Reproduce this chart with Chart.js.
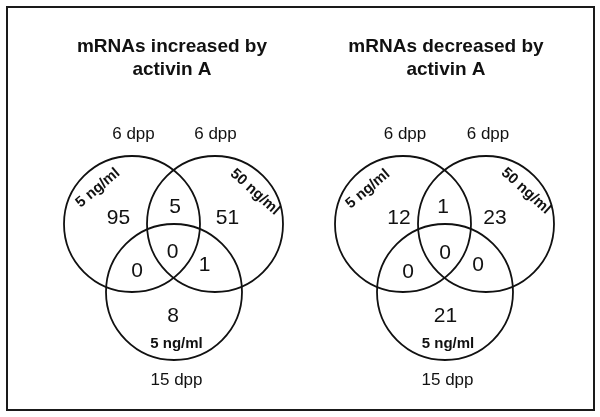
<!DOCTYPE html>
<html>
<head>
<meta charset="utf-8">
<script src="https://cdn.jsdelivr.net/npm/chart.js@4.4.1/dist/chart.umd.min.js"></script>
<style>
  html, body { margin: 0; padding: 0; background: #fff; }
  #wrap { width: 600px; height: 417px; }
</style>
</head>
<body>
<div id="wrap"><canvas id="venn" width="600" height="417"></canvas></div>
<script>
// Venn regions: A = 5 ng/ml 6 dpp, B = 50 ng/ml 6 dpp, C = 5 ng/ml 15 dpp
const regionNames = ['A only', 'B only', 'C only', 'A+B', 'A+C', 'B+C', 'A+B+C'];
const increasedCounts = [95, 51, 8, 5, 0, 1, 0];
const decreasedCounts = [12, 23, 21, 1, 0, 0, 0];
const panelTitles = [['mRNAs increased by', 'activin A'], ['mRNAs decreased by', 'activin A']];
const setDoses = ['5 ng/ml', '50 ng/ml', '5 ng/ml'];
const setAges = ['6 dpp', '6 dpp', '15 dpp'];

// layout (canvas units, y downward)
const FONT = '"Liberation Sans", Arial, sans-serif';
const RADIUS = 68;
const panels = [
    {
        counts: increasedCounts,
        title: panelTitles[0], titleX: 172,
        circles: [{x: 132, y: 224}, {x: 215, y: 224}, {x: 174, y: 292}],
        regionPos: [[118.5, 223.5], [227.5, 223.5], [173, 322], [175, 212.5], [137, 277], [204.5, 271], [172.5, 258]],
        agePos: [[133.5, 139], [215.5, 139], [176.5, 385]],
        dosePos: [[98, 188, -40], [255, 192, 42], [176.5, 348, 0]]
    },
    {
        counts: decreasedCounts,
        title: panelTitles[1], titleX: 446,
        circles: [{x: 403, y: 224}, {x: 486, y: 224}, {x: 445, y: 292}],
        regionPos: [[399, 223.5], [495, 223.5], [445.5, 321.5], [443, 212.5], [408, 277.5], [478, 271], [445, 258.5]],
        agePos: [[405, 139], [488, 139], [447.5, 385]],
        dosePos: [[368, 189, -40], [526, 191, 42], [448, 348, 0]]
    }
];

const vennText = {
    id: 'vennText',
    afterDatasetsDraw(chart) {
        const ctx = chart.ctx;
        const xs = chart.scales.x, ys = chart.scales.y;
        const px = v => xs.getPixelForValue(v);
        const py = v => ys.getPixelForValue(v);

        ctx.save();
        ctx.fillStyle = '#111';
        ctx.textAlign = 'center';
        ctx.textBaseline = 'alphabetic';

        panels.forEach(p => {
            ctx.font = 'bold 19px ' + FONT;
            ctx.fillText(p.title[0], px(p.titleX), py(52));
            ctx.fillText(p.title[1], px(p.titleX), py(75));

            ctx.font = '21px ' + FONT;
            p.counts.forEach((c, i) => {
                ctx.fillText(String(c), px(p.regionPos[i][0]), py(p.regionPos[i][1]));
            });

            ctx.font = '17px ' + FONT;
            setAges.forEach((a, i) => {
                ctx.fillText(a, px(p.agePos[i][0]), py(p.agePos[i][1]));
            });

            ctx.font = 'bold 15px ' + FONT;
            setDoses.forEach((d, i) => {
                const pos = p.dosePos[i];
                ctx.save();
                ctx.translate(px(pos[0]), py(pos[1]));
                ctx.rotate(pos[2] * Math.PI / 180);
                ctx.textBaseline = pos[2] !== 0 ? 'middle' : 'alphabetic';
                ctx.fillText(d, 0, 0);
                ctx.restore();
            });
        });

        // frame
        ctx.strokeStyle = '#1a1a1a';
        ctx.lineWidth = 2;
        ctx.strokeRect(7, 7, 587, 403);
        ctx.restore();
    }
};

const datasets = panels.map((p, k) => ({
    label: k === 0 ? 'increased' : 'decreased',
    data: p.circles,
    pointRadius: RADIUS,
    pointHoverRadius: RADIUS,
    pointStyle: 'circle',
    backgroundColor: 'rgba(0,0,0,0)',
    borderColor: '#111',
    borderWidth: 1.8,
    clip: false
}));

new Chart(document.getElementById('venn'), {
    type: 'scatter',
    data: { datasets: datasets },
    options: {
        responsive: false,
        animation: false,
        layout: { padding: 0, autoPadding: false },
        plugins: { legend: { display: false }, tooltip: { enabled: false }, title: { display: false } },
        events: [],
        scales: {
            x: { type: 'linear', min: 0, max: 600, display: false },
            y: { type: 'linear', min: 0, max: 417, reverse: true, display: false }
        }
    },
    plugins: [vennText]
});
</script>
</body>
</html>
